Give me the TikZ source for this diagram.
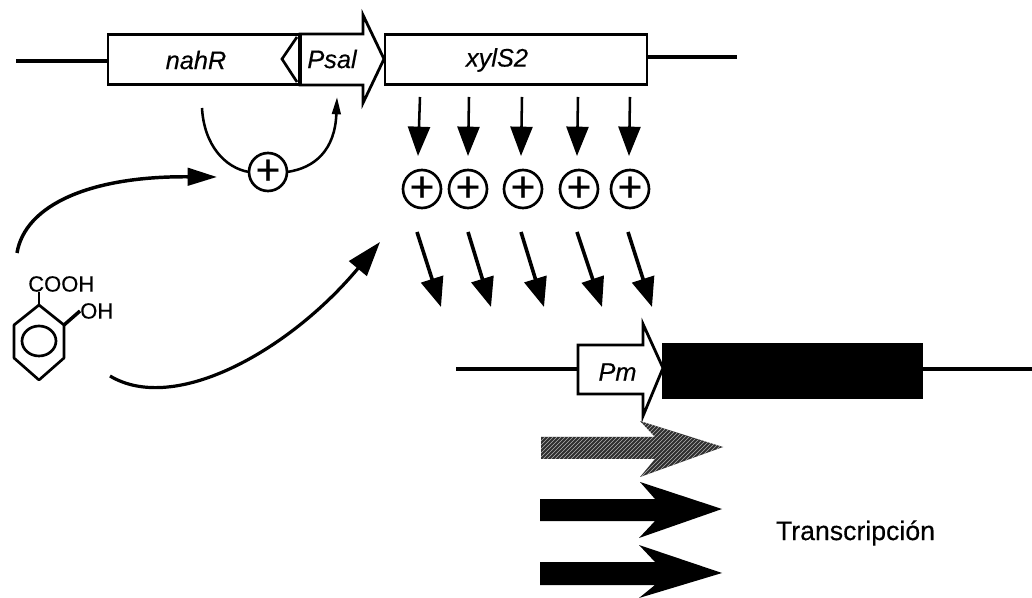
\documentclass[tikz,border=0pt]{standalone}
\usepackage{fontspec}
\setmainfont{Liberation Sans}[FakeBold=0.35,ItalicFeatures={FakeBold=0.35}]
\usetikzlibrary{arrows.meta,patterns,calc}
\tikzset{
  x=.75pt,y=-.75pt,
  gene/.style={draw=black,line width=2.1pt,fill=white,rectangle,inner sep=0pt,outer sep=0pt},
  genelabel/.style={font=\fontsize{19pt}{21pt}\selectfont\itshape,inner sep=0pt},
  dna/.style={line width=2.3pt,line cap=butt},
  promoter/.style={draw=black,line width=2.1pt,fill=white,line join=miter},
  plusnode/.style={circle,draw=black,line width=2pt,minimum size=28.5pt,inner sep=0pt,outer sep=0pt,fill=white,font=\fontsize{32pt}{32pt}\selectfont},
  downarrow/.style={line width=1.9pt,-{Triangle[length=22pt,width=16.5pt]}},
  slantarrow/.style={line width=2.7pt,-{Triangle[length=22pt,width=17pt]}},
  effect/.style={line width=2.6pt,-{Triangle[length=22pt,width=13pt]}},
  thinloop/.style={line width=1.9pt},
  chem/.style={line width=2pt,line join=round},
  chemlabel/.style={font=\fontsize{16.5pt}{18pt}\selectfont,inner sep=0pt},
  bigarrow/.style={fill=black,draw=none}
}
\begin{document}
\begin{tikzpicture}
\useasboundingbox[fill=white] (0,0) rectangle (1032,598);

% --- top gene row
\coordinate (topL) at (16,61);
\coordinate (topR) at (737,57);
\node[gene,minimum width=144pt,minimum height=38pt] (nahR) at (204,59.5) {};
\node[gene,minimum width=196.5pt,minimum height=38pt] (xylS) at (516,59.5) {};
\draw[dna] (topL) -- (topL -| nahR.west);
\draw[dna] (topR -| xylS.east) -- (topR);
\draw[promoter] (300,34) -- (363,34) -- (363,15) -- (384,59) -- (363,103) -- (363,85) -- (300,85) -- cycle;
\draw[line width=3.2pt] (300,33) -- (300,86);
\draw[line width=2pt,line join=miter] (297,37) -- (282,59) -- (297,82);
\node[genelabel] (nahRt) at (196,60) {nahR};
\node[genelabel] (Psal) at (332,59) {Psal};
\node[genelabel] (xylSt) at (497,60) {xylS2};

% --- plus nodes
\node[plusnode] (p0) at (268,172) {+};
\node[plusnode] (p1) at (422,189) {+};
\node[plusnode] (p2) at (468,189) {+};
\node[plusnode] (p3) at (523,189) {+};
\node[plusnode] (p4) at (579,189) {+};
\node[plusnode] (p5) at (630,189) {+};

% --- loop
\coordinate (loopS) at (202,108);
\coordinate (loopE) at (337,97);
\draw[thinloop] (loopS) .. controls (204,145) and (225,168) .. (p0.west);
\draw[thinloop,-{Triangle[length=13pt,width=6.5pt]}] (p0.east) .. controls (315,168) and (335,150) .. (loopE);

% --- vertical arrows
\foreach \n/\xa/\xb in {1/420/418,2/469/468,3/522/521,4/578/577,5/630/629}{
  \coordinate (d\n s) at (\xa,97);
  \coordinate (d\n e) at (\xb,156);
  \draw[downarrow] (d\n s) -- (d\n e);
}
% --- slanted arrows
\foreach \n/\xa/\xb in {1/417/441,2/468/491,3/521/544,4/577/602,5/628/652}{
  \coordinate (s\n s) at (\xa,232);
  \coordinate (s\n e) at (\xb,307);
  \draw[slantarrow] (s\n s) -- (s\n e);
}

% --- effector arrows
\coordinate (e1s) at (17,253);
\coordinate (e1e) at (217,177);
\coordinate (e2s) at (110,376);
\coordinate (e2e) at (380,242);
\draw[effect] (e1s) .. controls (25,205) and (90,176) .. (e1e);
\draw[line width=2.4pt,-{Triangle[length=26pt,width=17pt]}] (e2s) .. controls (175,415) and (290,350) .. (e2e);

% --- salicylate
\draw[chem] (39,305) -- (64,325) -- (64,358) -- (39,380) -- (14,358) -- (14,325) -- cycle;
\draw[chem] (39,341) ellipse [x radius=17,y radius=15];
\node[chemlabel,anchor=west] (cooh) at (28,284) {COOH};
\node[chemlabel,anchor=west] (oh) at (80,311) {OH};
\draw[chem] (39,305) -- (cooh.south -| 39,0);
\draw[line width=2.6pt] (64,325) -- (oh.west);

% --- lower gene row
\coordinate (lowL) at (456,369);
\coordinate (lowR) at (1032,369);
\node[gene,fill=black,minimum width=194pt,minimum height=40.5pt] (blk) at (792.5,371) {};
\draw[dna] (lowL) -- (578,369);
\draw[line width=2.6pt] (blk.east |- lowR) -- (lowR);
\draw[promoter] (578,345) -- (643,345) -- (643,324) -- (663,368) -- (643,416) -- (643,394) -- (578,394) -- cycle;
\node[genelabel] (Pm) at (617.5,372) {Pm};

% --- transcription arrows
\path[bigarrow,fill=black!82] (541,437) -- (655,437) -- (640,421) -- (723,447) -- (640,477) -- (655,459) -- (541,459) -- cycle;
\path[pattern=north east lines,pattern color=white!70!black] (541,437) -- (655,437) -- (640,421) -- (723,447) -- (640,477) -- (655,459) -- (541,459) -- cycle;
\path[bigarrow] (540,499) -- (655,499) -- (640,482) -- (722,509) -- (639,538) -- (655,521) -- (540,521) -- cycle;
\path[bigarrow] (540,562) -- (655,562) -- (639,545) -- (722,573) -- (639,598) -- (655,585) -- (540,585) -- cycle;
\node[font=\fontsize{20pt}{22pt}\selectfont,inner sep=0pt] (tr) at (855.5,533) {Transcripción};
\end{tikzpicture}
\end{document}
